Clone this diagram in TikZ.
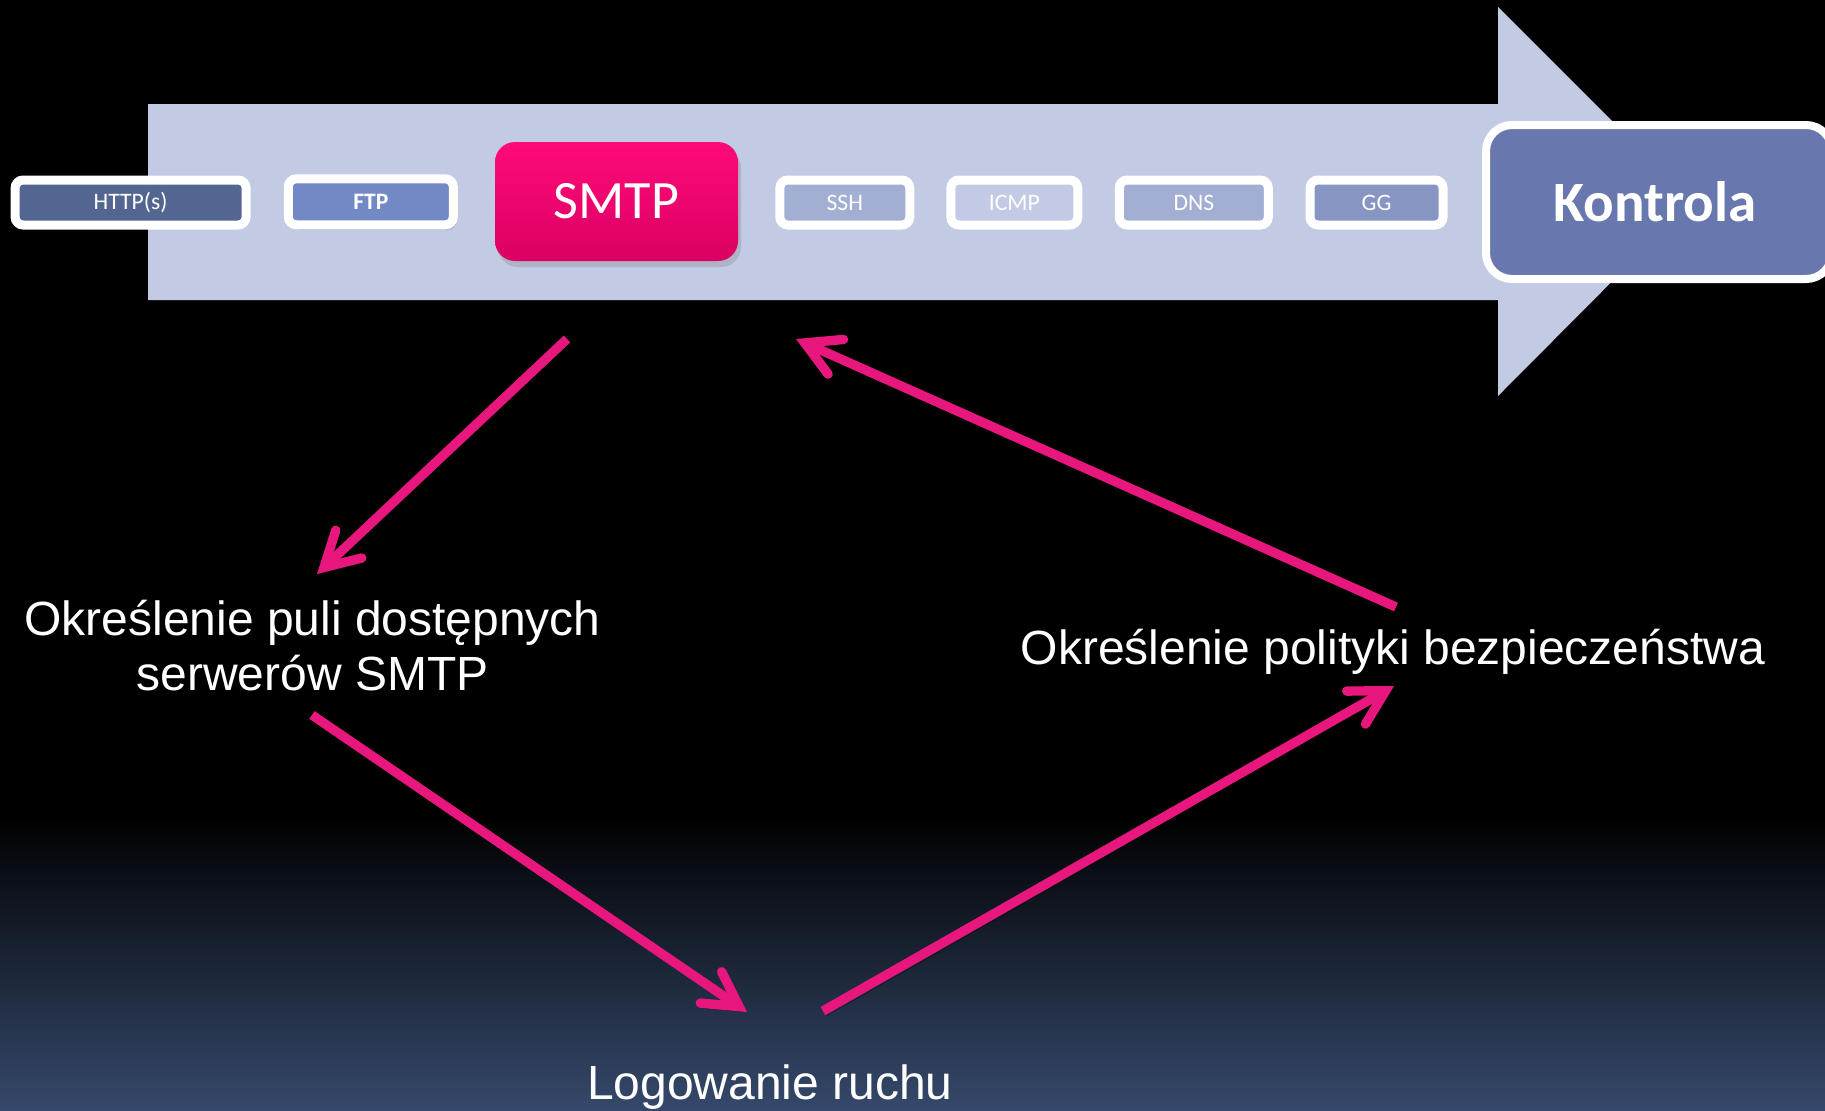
\documentclass[tikz,border=0pt]{standalone}
\usepackage{fontspec}
\setmainfont{Liberation Sans}
\newfontfamily\carlito{Carlito}
\usetikzlibrary{arrows.meta,shadows}

\definecolor{bandblue}{HTML}{C2CAE4}
\definecolor{httpblue}{HTML}{536591}
\definecolor{ftpblue}{HTML}{7289C6}
\definecolor{sshblue}{HTML}{A3AED3}
\definecolor{icmpblue}{HTML}{C3CAE5}
\definecolor{dnsblue}{HTML}{A3AED3}
\definecolor{ggblue}{HTML}{8795C2}
\definecolor{ctrlblue}{HTML}{6878AE}
\definecolor{smtptop}{HTML}{FF0A78}
\definecolor{smtpbot}{HTML}{DA0062}
\definecolor{cyclepink}{HTML}{E8177D}
\definecolor{bgbottom}{HTML}{36496C}

\begin{document}
\begin{tikzpicture}[x=0.5pt,y=-0.5pt,
  proto/.style={draw=white, line width=4.5pt, rounded corners=4pt,
    minimum height=22.5pt, inner sep=0pt, text=white,
    font=\carlito\fontsize{11.8}{12}\selectfont},
  cyclearrow/.style={draw=cyclepink, line width=4.7pt,
    -{Straight Barb[length=17pt,width=19pt,line cap=round]},
    preaction={draw=black, draw opacity=0.35, transform canvas={shift={(1.5pt,-2.5pt)}}}},
  steptext/.style={text=white, font=\fontsize{24}{27.5}\selectfont,
    align=center, inner sep=0pt, anchor=base}
]
\useasboundingbox (0,0) rectangle (1825,1110);
\begin{scope}
\clip (0,0) rectangle (1825,1110);

% background: black fading into dark blue at the bottom
\fill[black] (0,0) rectangle (1825,1110);
\shade[top color=black, bottom color=bgbottom] (0,815) rectangle (1825,1111);

% the wide process arrow
\fill[bandblue] (148,104) -- (1498,104) -- (1498,7) -- (1692,201)
  -- (1498,396) -- (1498,300) -- (148,300) -- cycle;

% protocol boxes on the arrow
\node[proto, fill=httpblue, minimum width=115.5pt] (http) at (130.6,202.5) {HTTP(s)};
\node[proto, fill=ftpblue, minimum width=82.5pt, minimum height=23pt,
  font=\carlito\bfseries\fontsize{11.8}{12}\selectfont,
  drop shadow={opacity=0.3, shadow xshift=1.5pt, shadow yshift=-2.5pt}]
  (ftp) at (370.8,201.8) {FTP};
\node[rounded corners=10pt, minimum width=121.5pt, minimum height=59.5pt,
  top color=smtptop, bottom color=smtpbot, text=white, inner sep=0pt,
  font=\carlito\fontsize{27}{28}\selectfont,
  drop shadow={opacity=0.3, shadow xshift=1.5pt, shadow yshift=-3pt}]
  (smtp) at (616.5,201.5) {SMTP};
\node[proto, fill=sshblue, minimum width=65pt] (ssh) at (844.8,202.5) {SSH};
\node[proto, fill=icmpblue, minimum width=63.5pt] (icmp) at (1014.3,202.5) {ICMP};
\node[proto, fill=dnsblue, minimum width=74.5pt] (dns) at (1193.8,202.5) {DNS};
\node[proto, fill=ggblue, minimum width=66.5pt] (gg) at (1376.5,202.5) {GG};

% control box at the arrow head
\node[draw=white, line width=4pt, rounded corners=13pt, fill=ctrlblue,
  minimum width=173pt, minimum height=77pt, inner sep=0pt, text=white,
  font=\carlito\bfseries\fontsize{28.5}{30}\selectfont]
  (ctrl) at (1659,202) {\hspace*{-4pt}Kontrola};
\end{scope}

% cycle steps (base anchor sits on the last line)
\node[steptext] (pool) at (312.6,690) {Określenie puli dostępnych\\serwerów SMTP};
\node[steptext] (log) at (770,1099) {Logowanie ruchu};
\node[steptext] (policy) at (1393,664) {Określenie polityki bezpieczeństwa};

% arrow end points around the cycle
\coordinate (smtpL) at (567,339);
\coordinate (poolT) at (317,574);
\coordinate (poolB) at (312,715);
\coordinate (logL) at (747,1012);
\coordinate (logR) at (823,1011);
\coordinate (policyB) at (1394,686);
\coordinate (policyT) at (1396,607);
\coordinate (smtpR) at (796,339);

\draw[cyclearrow] (smtpL) -- (poolT);
\draw[cyclearrow] (poolB) -- (logL);
\draw[cyclearrow] (logR) -- (policyB);
\draw[cyclearrow] (policyT) -- (smtpR);
\end{tikzpicture}
\end{document}
